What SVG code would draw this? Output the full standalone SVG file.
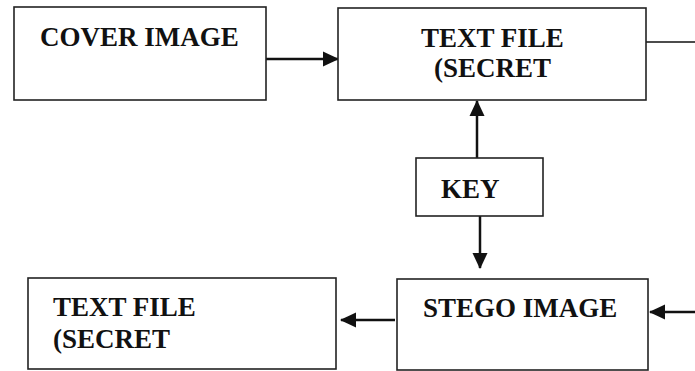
<svg xmlns="http://www.w3.org/2000/svg" width="695" height="371" viewBox="0 0 695 371">
<style>
.box{fill:#fff;stroke:#222;stroke-width:1.6}
.t{font-family:"Liberation Serif","Times New Roman",serif;font-weight:bold;font-size:27px;fill:#111}
.c{stroke:#111;stroke-width:2.5;fill:none}
.thin{stroke:#111;stroke-width:1.6;fill:none}
</style>
<defs>
<marker id="ah2" markerWidth="16" markerHeight="16" refX="15" refY="8" orient="auto" markerUnits="userSpaceOnUse" viewBox="0 0 16 16">
<path d="M0,0.5 L16,8 L0,15.5 z" fill="#111"/>
</marker>
</defs>
<rect width="695" height="371" fill="#fff"/>
<g id="connectors">
<line class="c" x1="266" y1="59" x2="338" y2="59" marker-end="url(#ah2)"/>
<line class="thin" x1="646" y1="42" x2="695" y2="42"/>
<line class="c" x1="477" y1="158" x2="477" y2="101" marker-end="url(#ah2)"/>
<line class="c" x1="480" y1="216" x2="480" y2="268" marker-end="url(#ah2)"/>
<line class="c" x1="395" y1="320" x2="341" y2="320" marker-end="url(#ah2)"/>
<line class="c" x1="695" y1="312" x2="650" y2="312" marker-end="url(#ah2)"/>
</g>
<g id="cover-image">
<rect class="box" x="14" y="7" width="252" height="93"/>
<text class="t" x="40" y="46">COVER IMAGE</text>
</g>
<g id="text-file-top">
<rect class="box" x="338" y="8" width="308" height="92"/>
<text class="t" x="421" y="47">TEXT FILE</text>
<text class="t" x="434" y="77">(SECRET</text>
</g>
<g id="key">
<rect class="box" x="416" y="158" width="127" height="58"/>
<text class="t" x="441" y="198">KEY</text>
</g>
<g id="stego-image">
<rect class="box" x="397" y="279" width="251" height="91"/>
<text class="t" x="423" y="317">STEGO IMAGE</text>
</g>
<g id="text-file-bottom">
<rect class="box" x="28" y="278" width="308" height="91"/>
<text class="t" x="53" y="316">TEXT FILE</text>
<text class="t" x="53" y="348">(SECRET</text>
</g>
</svg>
